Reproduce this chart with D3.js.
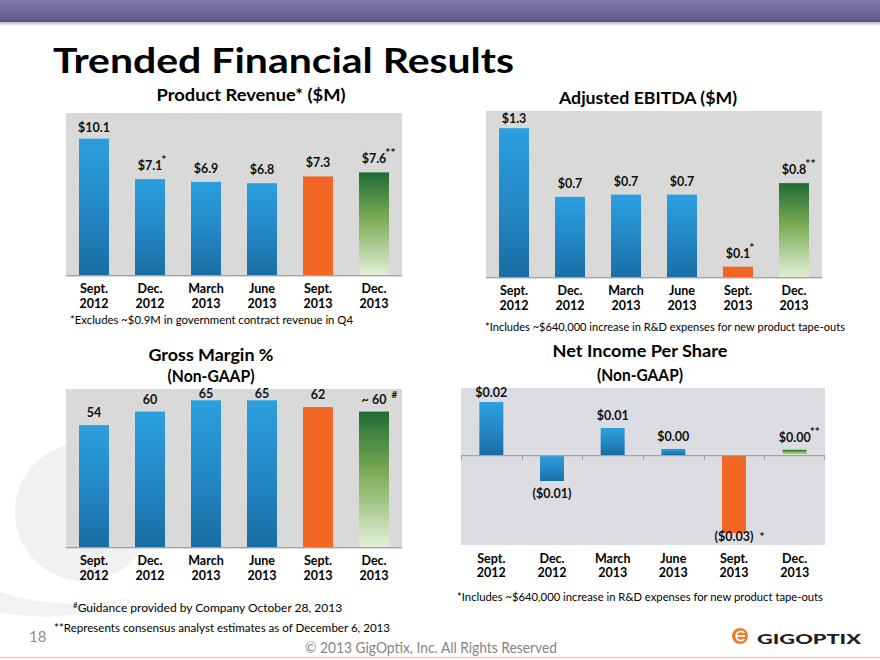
<!DOCTYPE html>
<html><head><meta charset="utf-8">
<script src="https://cdn.jsdelivr.net/npm/d3@7"></script>
<style>
body{margin:0;background:#fff}
svg{display:block}
text{font-family:Lato,"Open Sans",sans-serif}
</style></head>
<body><svg id="c" width="880" height="660"></svg>
<script>
// ---------------- data ----------------
const quarters = ["Sept. 2012","Dec. 2012","March 2013","June 2013","Sept. 2013","Dec. 2013"];
const barKinds = ["actual","actual","actual","actual","latest","estimate"];
const revenue = [10.1, 7.1, 6.9, 6.8, 7.3, 7.6];
const revenueMarks = ["","*","","","","**"];
const ebitda = [1.3, 0.70, 0.72, 0.72, 0.09, 0.82];
const ebitdaMarks = ["","","","","*","**"];
const grossMargin = [54, 60, 65, 65, 62, 60];
const grossMarginPrefix = ["","","","","","~ "];
const grossMarginMarks = ["","","","","","#"];
const eps = [0.02, -0.0098, 0.0102, 0.0023, -0.0294, 0.002];
const epsMarks = ["","","","","*","**"];

const svg = d3.select("#c");
const defs = svg.append("defs");

function vGrad(id, stops){
  const g = defs.append("linearGradient").attr("id",id).attr("x1",0).attr("y1",0).attr("x2",0).attr("y2",1);
  stops.forEach(s=>g.append("stop").attr("offset",s[0]).attr("stop-color",s[1]));
}
vGrad("gBlue",[[0,"#2ba0df"],[0.55,"#2386c4"],[1,"#1a6da3"]]);
vGrad("gGreen",[[0,"#1f6b35"],[0.45,"#7cab55"],[1,"#e1efd6"]]);
vGrad("gHead",[[0,"#8279ad"],[0.8,"#685e8f"],[1,"#574e78"]]);
vGrad("gShadow",[[0,"#b9b5c8"],[1,"#ffffff"]]);
const fills = {actual:"url(#gBlue)", latest:"#f26522", estimate:"url(#gGreen)"};

// ---------------- background decorations ----------------
svg.append("rect").attr("x",0).attr("y",0).attr("width",880).attr("height",22).attr("fill","url(#gHead)");
svg.append("rect").attr("x",0).attr("y",22).attr("width",880).attr("height",4).attr("fill","url(#gShadow)");
svg.append("circle").attr("cx",84).attr("cy",512).attr("r",69).attr("fill","#f1f1f1");
svg.append("path").attr("d","M0,592 Q60,612 128,598 Q70,626 0,612 Z").attr("fill","#f3f3f3");
svg.append("line").attr("x1",0).attr("x2",880).attr("y1",657.5).attr("y2",657.5).attr("stroke","#f5c8b4").attr("stroke-width",1.5);

svg.append("text").attr("x",53).attr("y",73).attr("font-size",35).attr("font-weight",700)
  .attr("textLength",461).attr("lengthAdjust","spacingAndGlyphs").attr("fill","#000").text("Trended Financial Results");

// ---------------- chart builder ----------------
function drawChart(cfg){
  const g = svg.append("g");
  const x = d3.scaleBand().domain(quarters).range([cfg.left,cfg.right]).paddingInner(cfg.pad).paddingOuter(cfg.pad/2);
  const y = d3.scaleLinear().domain(cfg.domain).range([cfg.bottom,cfg.top]);
  const y0 = y(0);
  g.append("rect").attr("x",cfg.left).attr("y",cfg.top).attr("width",cfg.right-cfg.left)
    .attr("height",cfg.bottom-cfg.top+2).attr("fill",cfg.bg);

  // titles
  cfg.titles.forEach(t=>{
    g.append("text").attr("x",t.x).attr("y",t.y).attr("text-anchor","middle").attr("font-size",17)
      .attr("font-weight",700).attr("textLength",t.w).attr("lengthAdjust","spacingAndGlyphs").text(t.text);
  });

  // bars
  g.selectAll("rect.bar").data(cfg.values).join("rect").attr("class","bar")
    .attr("x",(d,i)=>x(quarters[i])).attr("width",x.bandwidth())
    .attr("y",d=>Math.min(y(d),y0)).attr("height",d=>Math.max(1,Math.abs(y(d)-y0)))
    .attr("fill",(d,i)=>fills[barKinds[i]]);

  // zero line
  g.append("line").attr("x1",cfg.left).attr("x2",cfg.right).attr("y1",y0+0.5).attr("y2",y0+0.5)
    .attr("stroke","#a3a3a3").attr("stroke-width",1.2);
  if(cfg.ticks){
    const half=(x.step()-x.bandwidth())/2;
    quarters.forEach((q,i)=>{
      const bx = Math.round(x(q)-half)+0.5;
      g.append("line").attr("x1",bx).attr("x2",bx).attr("y1",y0).attr("y2",y0+5).attr("stroke","#a3a3a3");
    });
    g.append("line").attr("x1",cfg.right-0.5).attr("x2",cfg.right-0.5).attr("y1",y0).attr("y2",y0+5).attr("stroke","#a3a3a3");
  }

  // value labels
  cfg.values.forEach((d,i)=>{
    const cx = x(quarters[i])+x.bandwidth()/2;
    const neg = d<0;
    const ly = neg ? Math.min(y(d)+cfg.negOff, cfg.bottom-2) : Math.max(y(d)-cfg.posOff, cfg.top+cfg.clamp);
    const t = g.append("text").attr("x",cx).attr("y",ly).attr("text-anchor","middle")
      .attr("font-size",12.5).attr("font-weight",700).attr("fill","#111").text(cfg.fmt(d,i));
    const m = cfg.marks[i];
    if(m){
      const w = t.node().getComputedTextLength();
      const gap = neg ? 6 : (m==="#" ? 5 : -1);
      g.append("text").attr("x", cx+w/2+gap).attr("y", neg ? ly : ly-6)
        .attr("font-size", m==="#"?10:12).attr("font-weight",700).attr("fill","#111").text(m);
    }
  });

  // category axis
  const axG = g.append("g").attr("transform",`translate(0,${cfg.catY})`)
    .call(d3.axisBottom(x).tickSize(0).tickPadding(0));
  axG.select(".domain").remove();
  axG.attr("font-family",null).attr("font-size",null);
  axG.selectAll(".tick text").each(function(d){
    const t = d3.select(this); const parts = d.split(" ");
    t.text(null).attr("dy",null).attr("y",0).attr("font-size",12.5).attr("font-weight",700).attr("fill","#000");
    t.append("tspan").attr("x",0).attr("y",0).text(parts[0]);
    t.append("tspan").attr("x",0).attr("y",cfg.catGap).text(parts[1]);
  });

  if(cfg.note){
    g.append("text").attr("x",cfg.note.x).attr("y",cfg.note.y).attr("font-size",11.5).attr("fill","#000")
      .attr("textLength",cfg.note.w).attr("lengthAdjust","spacingAndGlyphs").text(cfg.note.text);
  }
}

const rdNote = "*Includes ~$640,000 increase in R&D expenses for new product tape-outs";

drawChart({left:66,right:402,top:113,bottom:275,domain:[0,12],pad:0.464,bg:"#d9d9d9",
  values:revenue,marks:revenueMarks,fmt:d=>"$"+d.toFixed(1),posOff:9,negOff:16,clamp:19,
  catY:293,catGap:15,
  titles:[{text:"Product Revenue* ($M)",x:251,y:101,w:189}],
  note:{text:"*Excludes ~$0.9M in government contract revenue in Q4",x:70,y:324,w:283}});

drawChart({left:486,right:822,top:111,bottom:277,domain:[0,1.45],pad:0.464,bg:"#d9d9d9",
  values:ebitda,marks:ebitdaMarks,fmt:d=>"$"+d.toFixed(1),posOff:9,negOff:16,clamp:12,
  catY:295,catGap:15,
  titles:[{text:"Adjusted EBITDA ($M)",x:648,y:104,w:178}],
  note:{text:rdNote,x:485,y:331,w:360}});

drawChart({left:66,right:402,top:389,bottom:547,domain:[0,70],pad:0.464,bg:"#d9d9d9",
  values:grossMargin,marks:grossMarginMarks,fmt:(d,i)=>grossMarginPrefix[i]+d,posOff:8,negOff:16,clamp:9,
  catY:565,catGap:15,
  titles:[{text:"Gross Margin %",x:211,y:361,w:125},{text:"(Non-GAAP)",x:211,y:382,w:87}]});

drawChart({left:461,right:825,top:388,bottom:543,domain:[-0.0332,0.0253],pad:0.605,bg:"#dcdde2",ticks:true,
  values:eps,marks:epsMarks,fmt:d=>d<0?"($"+Math.abs(d).toFixed(2)+")":"$"+d.toFixed(2),posOff:8,negOff:17,clamp:9,
  catY:563,catGap:14,
  titles:[{text:"Net Income Per Share",x:640,y:357,w:175},{text:"(Non-GAAP)",x:640,y:381,w:86}],
  note:{text:rdNote,x:457,y:601,w:366}});

// ---------------- footer ----------------
const gn = svg.append("text").attr("x",73).attr("y",612).attr("font-size",12).attr("fill","#000");
gn.append("tspan").attr("font-size",8).attr("dy",-4).text("#");
gn.append("tspan").attr("dy",4).text("Guidance provided by Company October 28, 2013");
svg.append("text").attr("x",54).attr("y",632).attr("font-size",12).attr("fill","#000")
  .attr("textLength",336).attr("lengthAdjust","spacingAndGlyphs").text("**Represents consensus analyst estimates as of December 6, 2013");
svg.append("text").attr("x",29).attr("y",642).attr("font-size",15).attr("fill","#8c8c8c").text("18");
svg.append("text").attr("x",305).attr("y",653).attr("font-size",15).attr("fill","#858585")
  .attr("textLength",252).attr("lengthAdjust","spacingAndGlyphs").text("© 2013 GigOptix, Inc. All Rights Reserved");

// logo
svg.append("circle").attr("cx",740).attr("cy",636).attr("r",8).attr("fill","#ee7a2a");
svg.append("path").attr("d","M744.2,633 A4.6,4.6 0 1 0 744.2,639").attr("fill","none").attr("stroke","#fff").attr("stroke-width",1.8);
svg.append("line").attr("x1",737).attr("x2",745).attr("y1",636).attr("y2",636).attr("stroke","#fff").attr("stroke-width",1.8);
svg.append("text").attr("x",757).attr("y",644).attr("font-size",14).attr("font-weight",900).attr("fill","#231f20")
  .attr("textLength",104).attr("lengthAdjust","spacingAndGlyphs").text("GIGOPTIX");
</script>
</body></html>
